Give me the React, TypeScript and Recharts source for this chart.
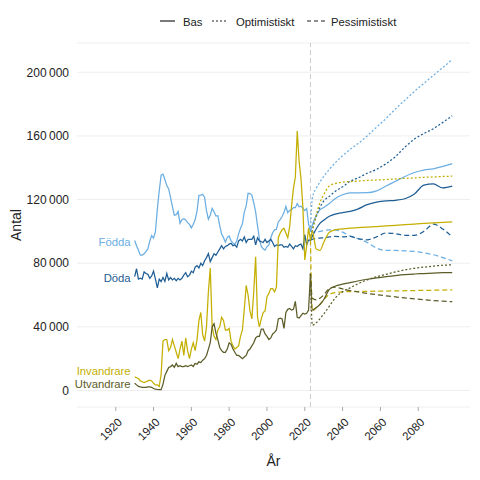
import React from 'react';
import { LineChart, Line, XAxis, YAxis, CartesianGrid, ReferenceLine, Legend, LabelList } from 'recharts';

// ---- Historical data (annual, 1930-2023) ----
const histStartYear = 1930;
const fodda = [
  94220, 90917, 88125, 85020, 85092, 85906, 87467, 88914, 93986, 97380,
  95778, 99901, 113961, 125392, 135373, 135980, 132597, 128779, 126683, 121272,
  115414, 110168, 110482, 112567, 105104, 107305, 107958, 107168, 105501, 104370,
  102219, 104501, 107284, 112903, 122664, 122806, 123354, 121360, 113087, 107622,
  110150, 114484, 112273, 109663, 109874, 103632, 98345, 96057, 93248, 96255,
  97064, 94065, 92748, 91780, 93882, 98463, 101950, 104699, 112080, 116023,
  123938, 123737, 122848, 117998, 112257, 103422, 95297, 90502, 89028, 88173,
  90441, 91466, 95815, 99157, 100928, 101346, 105913, 107421, 109301, 111801,
  115641, 111770, 113177, 113593, 114907, 114870, 117425, 115416, 115832, 114523,
  113077, 114263, 104734, 100051,
];
const doda = [
  71500, 76500, 70000, 70500, 70000, 74500, 73500, 73000, 70500, 72000,
  75000, 70000, 64500, 70000, 68500, 71000, 68500, 73500, 69500, 71000,
  69500, 70500, 69000, 70500, 69500, 70500, 72500, 74000, 71500, 72500,
  75000, 74000, 77500, 78500, 77000, 80000, 78500, 81500, 83500, 86000,
  81000, 83500, 86000, 85000, 87000, 89000, 91000, 89000, 90500, 91000,
  92000, 92500, 91000, 91500, 90000, 94000, 95000, 94000, 96500, 93000,
  95000, 95000, 95000, 97000, 91500, 96000, 94000, 93500, 93000, 95000,
  93000, 94000, 95000, 93000, 90500, 91500, 91000, 91500, 91500, 90000,
  90500, 90000, 92000, 90500, 89000, 91000, 90500, 91500, 92000, 89000,
  98000, 91500, 94500, 94500,
];
const invandrare = [
  8500, 8000, 7500, 6000, 5500, 5000, 5500, 6000, 6500, 6000,
  4500, 3500, 3500, 2500, 10000, 31000, 32000, 32000, 25000, 27000,
  32000, 28000, 24000, 20000, 26000, 31000, 22000, 33000, 25000, 20000,
  26000, 30000, 25000, 32000, 44000, 49000, 35000, 31000, 40000, 62000,
  77000, 40000, 34000, 32000, 38000, 40000, 46000, 44000, 38000, 38000,
  39000, 31000, 28000, 26000, 27000, 28000, 34000, 38000, 51000, 66000,
  60000, 50000, 45000, 62000, 84000, 46000, 40000, 45000, 49000, 50000,
  59000, 61000, 64000, 64000, 62000, 65000, 96000, 99000, 101000, 102000,
  99000, 96000, 103000, 116000, 127000, 134000, 163000, 144000, 133000, 115000,
  82000, 91000, 102000, 94500,
];
const utvandrare = [
  4500, 3500, 2500, 2200, 2000, 2000, 2000, 2200, 2200, 2000,
  1200, 800, 600, 500, 500, 4000, 9500, 12000, 14500, 15000,
  16000, 14500, 17000, 15000, 15500, 15000, 15000, 15500, 15000, 15500,
  16000, 15000, 17000, 16500, 18000, 17500, 19000, 20000, 22000, 26000,
  30000, 40000, 42000, 36000, 32000, 27000, 25000, 24000, 24000, 26000,
  30000, 29000, 26000, 24000, 22000, 22000, 21000, 20000, 21000, 22000,
  25000, 26000, 28000, 30000, 33000, 34000, 34000, 38500, 38500, 35500,
  34000, 32000, 33000, 35500, 36500, 38000, 45000, 45500, 45000, 39000,
  49000, 51000, 51500, 50500, 51000, 56000, 46000, 45500, 47000, 48500,
  48000, 48500, 50500, 73400,
];

// ---- Projections ----
const projYears = [2023, 2024, 2026, 2028, 2030, 2033, 2036, 2040, 2044, 2048, 2053, 2058, 2063, 2068, 2073, 2078, 2083, 2088, 2093, 2098];
const foddaBas = [100051, 104000, 110000, 113500, 115000, 117500, 120500, 123000, 124200, 124200, 124300, 125500, 128500, 131500, 134500, 137000, 138500, 139300, 140800, 142600];
const foddaOpt = [100051, 121000, 127000, 131000, 134500, 139000, 143000, 147500, 151500, 155000, 160000, 165500, 171000, 177000, 182500, 188000, 193000, 198000, 203000, 208000];
const foddaPess = [100051, 99500, 99500, 100000, 100500, 101000, 101000, 99500, 97000, 95500, 93000, 89500, 88000, 88000, 87800, 87400, 86500, 85300, 83500, 81500];
const dodaBas = [94500, 97000, 101500, 105000, 107000, 109500, 110800, 111800, 112600, 114000, 116800, 118400, 119200, 119500, 120500, 123500, 129000, 129800, 127300, 128400];
const dodaOpt = [94500, 101000, 109000, 115000, 119000, 122000, 125000, 128000, 131500, 133500, 136500, 139000, 142500, 147000, 153000, 158000, 161500, 164500, 168500, 172600];
const dodaPess = [94500, 95000, 95500, 95800, 96000, 96500, 96800, 96500, 96800, 95500, 94700, 96500, 99000, 98500, 97500, 97500, 100000, 104500, 101500, 96500];
const invBas = [94500, 100000, 89000, 88000, 93000, 99500, 101000, 101500, 102000, 102300, 102700, 103000, 103400, 103800, 104200, 104600, 105000, 105300, 105600, 105900];
const invOpt = [94500, 100000, 110000, 118000, 123000, 128500, 130000, 131000, 131300, 131600, 132000, 132300, 132600, 133000, 133300, 133600, 134000, 134200, 134500, 134700];
const invPess = [94500, 50000, 52000, 54000, 57000, 60500, 61500, 62000, 62100, 62200, 62300, 62400, 62500, 62600, 62700, 62800, 62900, 63000, 63100, 63200];
const utvBas = [73400, 50500, 52000, 54000, 57000, 63500, 65500, 66800, 67800, 68800, 69900, 70800, 71500, 72200, 72800, 73200, 73500, 73800, 74000, 74100];
const utvOpt = [73400, 41000, 42500, 45000, 48000, 53000, 58000, 62000, 64500, 67000, 69500, 71500, 73000, 74500, 75800, 76800, 77500, 78200, 78700, 79000];
const utvPess = [73400, 58000, 57000, 58000, 60000, 64000, 65000, 63800, 62800, 62000, 61000, 60200, 59500, 58800, 58200, 57600, 57000, 56500, 56100, 55800];

const xTicks = [1920, 1940, 1960, 1980, 2000, 2020, 2040, 2060, 2080];
const yTicks = [0, 40000, 80000, 120000, 160000, 200000];
const forecastStart = 2023;

const C = {
  fodda: '#6BAEE2',
  doda: '#1F5E94',
  inv: '#C4AF00',
  utv: '#5C5C28',
};

const FONT = '"Liberation Sans", Arial, sans-serif';

// build table
const rowMap = new Map<number, any>();
const getRow = (y: number) => {
  if (!rowMap.has(y)) rowMap.set(y, { year: y });
  return rowMap.get(y);
};
fodda.forEach((v, i) => {
  const r = getRow(histStartYear + i);
  r.fodda = v;
  r.doda = doda[i];
  r.inv = invandrare[i];
  r.utv = utvandrare[i];
});
projYears.forEach((y, i) => {
  const r = getRow(y);
  r.foddaBas = foddaBas[i];
  r.foddaOpt = foddaOpt[i];
  r.foddaPess = foddaPess[i];
  r.dodaBas = dodaBas[i];
  r.dodaOpt = dodaOpt[i];
  r.dodaPess = dodaPess[i];
  r.invBas = invBas[i];
  r.invOpt = invOpt[i];
  r.invPess = invPess[i];
  r.utvBas = utvBas[i];
  r.utvOpt = utvOpt[i];
  r.utvPess = utvPess[i];
});
const data = Array.from(rowMap.values()).sort((a, b) => a.year - b.year);

const fmt = (v: number) => {
  const s = String(Math.round(v));
  return s.replace(/\B(?=(\d{3})+(?!\d))/g, '\u2009');
};

const XTick = (props: any) => {
  const { x, y, payload } = props;
  return (
    <g transform={`translate(${x + 7},${y + 10})`}>
      <text x={0} y={0} textAnchor="end" transform="rotate(-45)" fontSize={11.5} fill="#222" fontFamily={FONT}>
        {payload.value}
      </text>
    </g>
  );
};

const nameLabel = (name: string, color: string, dy: number) => (props: any) => {
  const { x, y, index } = props;
  if (index !== 0) return null;
  return (
    <text x={x - 4} y={y + dy} textAnchor="end" fontSize={11.3} fill={color} fontFamily={FONT}>
      {name}
    </text>
  );
};

const legendEntries = [
  { name: 'Bas', dash: undefined as string | undefined, x1: 160, x2: 175, tx: 183 },
  { name: 'Optimistiskt', dash: '2 2', x1: 212, x2: 226, tx: 236 },
  { name: 'Pessimistiskt', dash: '4 3', x1: 307, x2: 325, tx: 331 },
];

const LegendContent = () => (
  <svg width={480} height={40} style={{ position: 'absolute', left: 0, top: 0, overflow: 'visible' }}>
    {legendEntries.map((e) => (
      <g key={e.name}>
        <line x1={e.x1} x2={e.x2} y1={21} y2={21} stroke="#222" strokeWidth={1.2} strokeDasharray={e.dash} />
        <text x={e.tx} y={25.5} fontSize={11.3} fill="#222" fontFamily={FONT}>
          {e.name}
        </text>
      </g>
    ))}
  </svg>
);

export default function App() {
  const sw = 1.25;
  return (
    <div style={{ position: 'absolute', left: 0, top: 0, width: 480, height: 480, background: '#fff' }}>
      <LineChart width={480} height={480} data={data} margin={{ top: 43, right: 10, bottom: 0, left: 0 }}>
        <CartesianGrid vertical={false} stroke="#EEEEEE" strokeWidth={1} />
        <XAxis
          type="number"
          dataKey="year"
          domain={[1899.5, 2107.4]}
          ticks={xTicks}
          allowDataOverflow
          axisLine={false}
          tickLine={{ stroke: '#AAAAAA' }}
          tickSize={4}
          tickMargin={2}
          height={73}
          tick={<XTick />}
          interval={0}
          label={{
            content: () => (
              <text x={273.5} y={466} textAnchor="middle" fontSize={14} fill="#222" fontFamily={FONT}>
                År
              </text>
            ),
          }}
        />
        <YAxis
          type="number"
          domain={[-10400, 218400]}
          ticks={yTicks}
          allowDataOverflow
          axisLine={false}
          tickLine={false}
          tickSize={6}
          tickMargin={2}
          width={77}
          tickFormatter={fmt}
          tick={{ fontSize: 12, fill: '#222', fontFamily: FONT }}
          label={{
            content: () => (
              <text x={21} y={225} transform="rotate(-90 21 225)" textAnchor="middle" fontSize={14} fill="#222" fontFamily={FONT}>
                Antal
              </text>
            ),
          }}
        />
        <ReferenceLine x={forecastStart} stroke="#CCCCCC" strokeDasharray="5 3" strokeWidth={1} />
        <Legend
          verticalAlign="top"
          content={() => <LegendContent />}
          wrapperStyle={{ position: 'absolute', left: 0, top: 0, width: 480, height: 0 }}
        />

        {/* projections */}
        <Line dataKey="foddaOpt" stroke={C.fodda} strokeWidth={sw} strokeDasharray="2 2" dot={false} type="monotone" connectNulls isAnimationActive={false} legendType="none" />
        <Line dataKey="foddaPess" stroke={C.fodda} strokeWidth={sw} strokeDasharray="5 3" dot={false} type="monotone" connectNulls isAnimationActive={false} legendType="none" />
        <Line dataKey="foddaBas" stroke={C.fodda} strokeWidth={sw} dot={false} type="monotone" connectNulls isAnimationActive={false} legendType="none" />
        <Line dataKey="dodaOpt" stroke={C.doda} strokeWidth={sw} strokeDasharray="2 2" dot={false} type="monotone" connectNulls isAnimationActive={false} legendType="none" />
        <Line dataKey="dodaPess" stroke={C.doda} strokeWidth={sw} strokeDasharray="5 3" dot={false} type="monotone" connectNulls isAnimationActive={false} legendType="none" />
        <Line dataKey="dodaBas" stroke={C.doda} strokeWidth={sw} dot={false} type="monotone" connectNulls isAnimationActive={false} legendType="none" />
        <Line dataKey="invOpt" stroke={C.inv} strokeWidth={sw} strokeDasharray="2 2" dot={false} type="monotone" connectNulls isAnimationActive={false} legendType="none" />
        <Line dataKey="invPess" stroke={C.inv} strokeWidth={sw} strokeDasharray="5 3" dot={false} type="monotone" connectNulls isAnimationActive={false} legendType="none" />
        <Line dataKey="invBas" stroke={C.inv} strokeWidth={sw} dot={false} type="monotone" connectNulls isAnimationActive={false} legendType="none" />
        <Line dataKey="utvOpt" stroke={C.utv} strokeWidth={sw} strokeDasharray="2 2" dot={false} type="monotone" connectNulls isAnimationActive={false} legendType="none" />
        <Line dataKey="utvPess" stroke={C.utv} strokeWidth={sw} strokeDasharray="5 3" dot={false} type="monotone" connectNulls isAnimationActive={false} legendType="none" />
        <Line dataKey="utvBas" stroke={C.utv} strokeWidth={sw} dot={false} type="monotone" connectNulls isAnimationActive={false} legendType="none" />

        {/* history */}
        <Line dataKey="fodda" stroke={C.fodda} strokeWidth={sw} dot={false} type="linear" isAnimationActive={false} legendType="none">
          <LabelList dataKey="fodda" content={nameLabel('Födda', C.fodda, 5)} />
        </Line>
        <Line dataKey="doda" stroke={C.doda} strokeWidth={sw} dot={false} type="linear" isAnimationActive={false} legendType="none">
          <LabelList dataKey="doda" content={nameLabel('Döda', C.doda, 5)} />
        </Line>
        <Line dataKey="inv" stroke={C.inv} strokeWidth={sw} dot={false} type="linear" isAnimationActive={false} legendType="none">
          <LabelList dataKey="inv" content={nameLabel('Invandrare', C.inv, -2)} />
        </Line>
        <Line dataKey="utv" stroke={C.utv} strokeWidth={sw} dot={false} type="linear" isAnimationActive={false} legendType="none">
          <LabelList dataKey="utv" content={nameLabel('Utvandrare', C.utv, 4.5)} />
        </Line>
      </LineChart>
    </div>
  );
}
